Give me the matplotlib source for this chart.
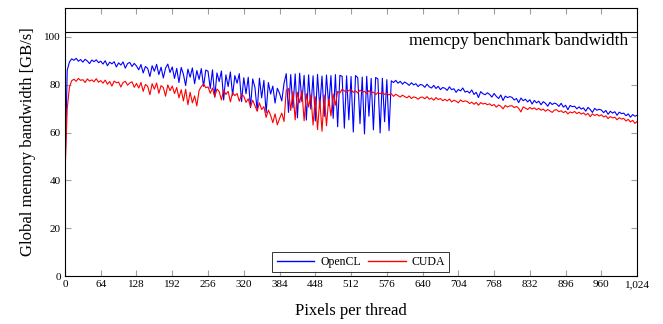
import numpy as np
import matplotlib
matplotlib.use("Agg")
import matplotlib.pyplot as plt
from matplotlib.ticker import FuncFormatter
from matplotlib.lines import Line2D

pixels = list(range(0, 1025, 4))

opencl = [
    42.0, 86.0, 89.5, 90.8, 90.2, 91.0, 89.8, 90.5, 89.4, 90.6, 89.9, 88.8, 90.3, 89.6, 90.4, 89.2,
    89.8, 88.6, 90.0, 87.9, 89.4, 88.7, 89.6, 87.4, 89.1, 88.2, 89.5, 86.9, 88.8, 89.3, 87.6, 88.9,
    87.8, 86.2, 88.4, 84.9, 87.6, 86.8, 83.4, 87.9, 85.6, 88.5, 84.2, 87.3, 82.8, 86.9, 88.6, 85.1,
    87.4, 82.6, 86.8, 80.9, 87.2, 84.3, 79.6, 86.5, 83.1, 87.0, 80.4, 85.9, 82.2, 86.7, 79.3, 86.1,
    85.6, 78.4, 86.2, 74.8, 84.9, 81.3, 85.7, 73.6, 84.1, 79.2, 85.3, 75.5, 83.8, 80.6, 84.6, 72.9,
    82.9, 76.2, 83.1, 70.4, 82.4, 78.8, 69.1, 82.7, 74.5, 81.8, 68.2, 80.9, 76.1, 79.4, 72.3, 78.5,
    76.4, 73.2, 80.5, 84.6, 68.4, 84.2, 70.3, 84.5, 66.1, 84.8, 72.9, 83.9, 65.2, 84.1, 69.8, 83.7,
    64.8, 84.3, 70.5, 83.6, 66.7, 84.0, 71.2, 83.8, 65.9, 84.2, 62.4, 83.9, 83.5, 61.8, 83.7, 65.3,
    83.4, 60.2, 83.8, 82.9, 63.7, 83.2, 59.4, 83.5, 66.8, 82.6, 61.1, 83.0, 82.4, 59.8, 82.7, 64.5,
    82.1, 60.8, 81.6, 80.9, 81.8, 80.6, 81.4, 80.2, 81.1, 80.5, 79.7, 80.8, 79.9, 80.4, 79.2, 80.1,
    79.8, 78.9, 80.2, 79.1, 78.6, 79.7, 78.4, 79.3, 77.9, 78.8,
    78.5, 77.6, 79.1, 77.9, 78.3, 76.8, 78.0, 77.4, 78.6, 76.9,
    77.3, 76.5, 77.8, 75.9, 76.8, 74.6, 77.1, 76.2, 75.8, 76.6,
    75.9, 74.8, 76.3, 75.1, 74.2, 75.7, 73.4, 75.2, 74.6, 75.0,
    74.7, 73.6, 74.2, 72.5, 74.4, 73.3, 73.9, 72.8, 73.7, 71.9,
    73.4, 72.4, 73.1, 71.6, 72.9, 72.2, 71.0, 72.6, 71.7, 72.3,
    71.9, 70.9, 72.2, 70.6, 71.4, 69.5, 71.3, 70.8, 71.0, 69.9,
    70.7, 69.8, 70.3, 68.9, 70.5, 69.6, 68.4, 70.1, 69.3, 69.7,
    69.4, 68.3, 69.2, 67.6, 68.9, 68.1, 68.7, 67.2, 68.5, 67.9,
    68.1, 67.0, 67.8, 66.4, 67.5, 66.8, 67.2,
]

cuda = [
    42.0, 70.0, 79.0, 81.6, 82.3, 81.4, 82.6, 81.8, 82.1, 80.9, 82.4, 81.5, 82.0, 81.2, 82.5, 81.0,
    81.7, 80.6, 81.9, 80.2, 81.3, 79.4, 81.5, 80.8, 81.1, 79.0, 80.9, 81.4, 79.8, 80.7, 81.2, 78.9,
    80.5, 78.6, 80.9, 77.2, 80.1, 79.3, 75.8, 80.4, 78.1, 80.7, 76.4, 79.6, 78.8, 75.2, 79.9, 77.5,
    79.4, 76.3, 78.8, 74.5, 77.9, 73.2, 78.1, 71.6, 76.8, 72.4, 75.3, 71.1, 77.6, 79.2, 80.3, 78.7,
    79.1, 76.4, 78.6, 74.8, 78.2, 77.1, 73.6, 77.8, 75.9, 77.2, 72.8, 76.7, 75.4, 76.3, 73.1, 75.8,
    75.2, 72.6, 74.1, 70.8, 73.5, 71.2, 68.9, 72.4, 69.6, 70.8, 66.3, 69.4, 67.2, 64.1, 67.8, 63.2,
    65.8, 68.1, 64.6, 77.6, 78.4, 69.2, 77.1, 65.3, 76.8, 72.4, 77.5, 64.9, 76.2, 70.6, 75.8, 63.1,
    74.9, 61.2, 73.8, 60.5, 75.6, 62.8, 74.3, 66.9, 76.1, 71.4, 77.2, 76.5, 78.1, 77.4, 76.8, 77.6,
    77.9, 76.8, 77.4, 76.5, 77.7, 76.9, 77.2, 76.3, 77.5, 76.6, 76.9, 75.8, 76.7, 76.2, 76.8, 75.9,
    76.4, 75.7, 76.2, 75.1, 76.0, 75.4, 74.8, 75.6, 75.0, 74.5, 75.3, 74.2, 74.9, 74.6, 73.9, 74.7,
    74.8, 74.1, 75.0, 73.9, 74.4, 73.5, 74.6, 73.8, 74.2, 73.3,
    73.9, 73.2, 74.0, 72.8, 73.5, 73.1, 72.4, 73.6, 72.9, 73.2,
    73.0, 72.1, 72.7, 71.8, 72.6, 71.4, 72.5, 71.9, 72.2, 71.6,
    72.0, 71.2, 71.7, 70.6, 71.5, 71.0, 69.9, 71.3, 70.7, 71.1,
    71.2, 70.4, 70.9, 70.1, 68.6, 70.7, 70.2, 69.6, 70.5, 69.8,
    70.3, 69.5, 70.1, 69.3, 69.8, 68.9, 69.6, 69.0, 68.4, 69.4,
    69.5, 68.7, 69.1, 68.3, 68.9, 67.8, 68.6, 68.2, 68.8, 67.9,
    68.5, 67.7, 68.2, 67.3, 68.0, 66.6, 67.8, 67.1, 67.6, 66.9,
    67.4, 66.5, 67.0, 65.8, 66.7, 66.1, 66.4, 65.3, 66.2, 65.6,
    65.9, 64.8, 65.5, 64.4, 65.1, 63.8, 64.6,
]

memcpy_bw = 102.0
x_ticks = list(range(0, 1025, 64))
y_ticks = [0, 20, 40, 60, 80, 100]

plt.rcParams['font.family'] = ['Liberation Serif', 'DejaVu Serif']

fig = plt.figure(figsize=(6.63, 3.24), dpi=100)
ax = fig.add_axes([0.098, 0.148, 0.863, 0.827])

ax.plot(pixels, opencl, color='#0000ff', lw=0.8)
ax.plot(pixels, cuda, color='#ff0000', lw=0.8)
ax.axhline(memcpy_bw, color='black', lw=0.8)
ax.text(1008, memcpy_bw - 0.6, 'memcpy benchmark bandwidth', ha='right', va='top', fontsize=12.5)

ax.set_xlim(0, 1024)
ax.set_ylim(0, 112)
ax.set_xticks(x_ticks)
ax.set_yticks(y_ticks)
ax.xaxis.set_major_formatter(FuncFormatter(lambda v, p: f"{int(v):,}"))
ax.tick_params(direction='in', length=4.5, width=0.8, color='#a0a0a0',
               labelsize=8, top=True, right=True, pad=3)
for s in ax.spines.values():
    s.set_linewidth(0.8)

ax.set_xlabel('Pixels per thread', fontsize=12, labelpad=10)
ax.set_ylabel('Global memory bandwidth [GB/s]', fontsize=12, labelpad=6)

handles = [Line2D([], [], color='#0000ff', lw=1.0),
           Line2D([], [], color='#ff0000', lw=1.0)]
leg = ax.legend(handles, ['OpenCL', 'CUDA'], loc='lower center',
                bbox_to_anchor=(0.517, 0.014), borderaxespad=0, ncol=2, fontsize=8.5,
                frameon=True, fancybox=False, edgecolor='black', handlelength=3.2,
                columnspacing=0.6, handletextpad=0.5, borderpad=0.35)
leg.get_frame().set_linewidth(0.7)

fig.savefig('out.png', dpi=100)
